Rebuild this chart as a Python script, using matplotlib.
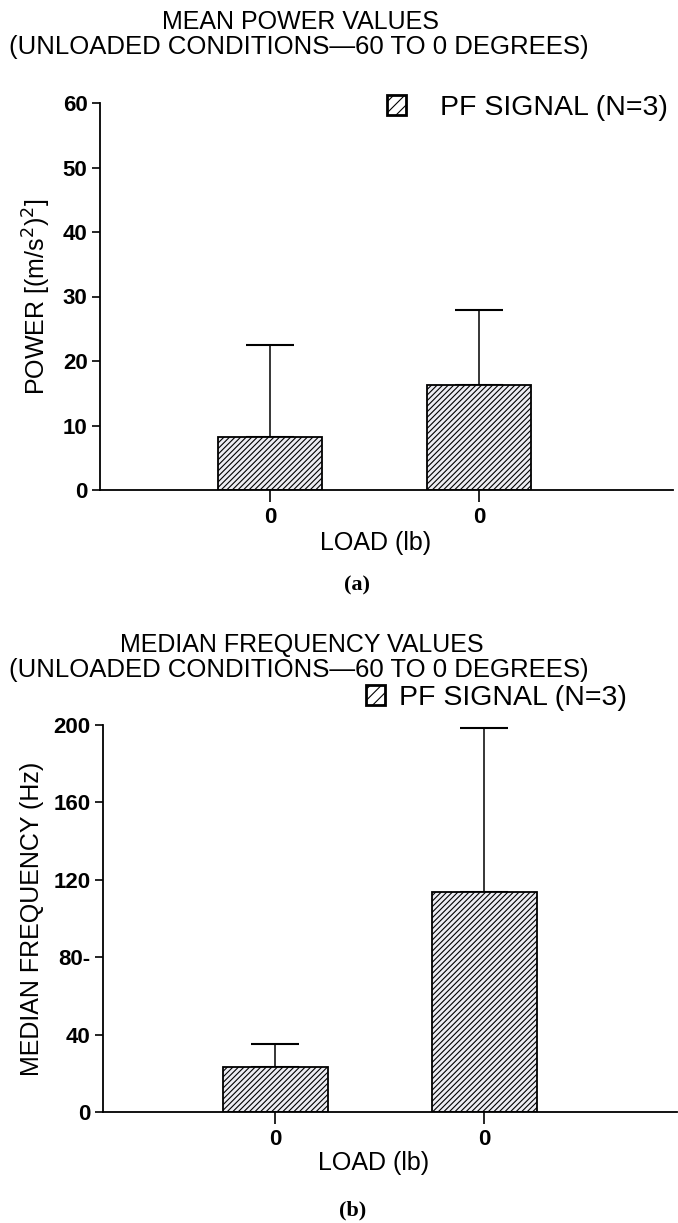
import numpy as np
import matplotlib
matplotlib.use('Agg')
import matplotlib.pyplot as plt
from matplotlib.patches import Patch

# values
load_labels = ['0', '0']
power_mean = [8.2, 16.3]
power_err = [14.3, 11.6]
freq_mean = [23.1, 113.6]
freq_err = [12.0, 85.0]

power_ticks = [0, 10, 20, 30, 40, 50, 60]
freq_ticks = [0, 40, 80, 120, 160, 200]
freq_ticklabels = ['0', '40', '80-', '120', '160', '200']

title_top = ['MEAN POWER VALUES', '(UNLOADED CONDITIONS\u201460 TO 0 DEGREES)']
title_bot = ['MEDIAN FREQUENCY VALUES', '(UNLOADED CONDITIONS\u201460 TO 0 DEGREES)']
legend_label = 'PF SIGNAL (N=3)'

plt.rcParams['font.family'] = ['Liberation Sans', 'DejaVu Sans']
plt.rcParams['hatch.linewidth'] = 0.8

W, H = 678, 1223
fig = plt.figure(figsize=(W / 100, H / 100), dpi=100)


def fy(y):
    # pixel row -> figure fraction
    return 1 - y / H


def draw_panel(ax, means, errs, ticks, ylabel, ylim, xlim):
    x = np.arange(len(means))
    ax.bar(x, means, width=0.5, color='#ececf2', edgecolor='black',
           hatch='//////', linewidth=1.3, zorder=2)
    ax.errorbar(x, means, yerr=[np.zeros(len(errs)), errs], fmt='none',
                ecolor='black', elinewidth=1.1, capsize=17, capthick=1.5, zorder=1)
    ax.set_xlim(*xlim)
    ax.set_ylim(*ylim)
    ax.set_xticks(x)
    ax.set_xticklabels(load_labels, fontsize=16, fontweight='bold')
    ax.set_yticks(ticks)
    ax.tick_params(axis='y', length=6, width=1.2, labelsize=16, pad=3)
    ax.tick_params(axis='x', length=8.5, width=1.2, pad=4)
    for lab in ax.get_yticklabels():
        lab.set_fontweight('bold')
    ax.spines['top'].set_visible(False)
    ax.spines['right'].set_visible(False)
    ax.spines['left'].set_linewidth(1.3)
    ax.spines['bottom'].set_linewidth(1.3)
    ax.set_ylabel(ylabel, fontsize=18, labelpad=7)
    ax.patch.set_alpha(0)


def add_legend(x_px, y_px, pad):
    handle = Patch(facecolor='white', edgecolor='black', hatch='///', linewidth=2)
    fig.legend([handle], [legend_label], loc='center left',
               bbox_to_anchor=(x_px / W, fy(y_px)), frameon=False, fontsize=20.5,
               handlelength=0.65, handleheight=0.65, handletextpad=pad,
               borderpad=0, borderaxespad=0)


# (a) mean power
ax1 = fig.add_axes([100 / W, fy(490), 573 / W, 387 / H])
draw_panel(ax1, power_mean, power_err, power_ticks,
           'POWER [(m/s$^2$)$^2$]', (0, 60), (-0.813, 1.928))
fig.text(300 / W, fy(22), title_top[0], ha='center', va='center', fontsize=18)
fig.text(299 / W, fy(47), title_top[1], ha='center', va='center', fontsize=18.5)
fig.text(376 / W, fy(543), 'LOAD (lb)', ha='center', va='center', fontsize=18)
fig.text(357 / W, fy(585), '(a)', ha='center', va='center', fontsize=16,
         fontweight='bold', family='Liberation Serif')
add_legend(387, 108, 1.2)

# (b) median frequency
ax2 = fig.add_axes([103 / W, fy(1112), 574 / W, 387 / H])
draw_panel(ax2, freq_mean, freq_err, freq_ticks,
           'MEDIAN FREQUENCY (Hz)', (0, 200), (-0.823, 1.92))
ax2.set_yticklabels(freq_ticklabels, fontsize=16, fontweight='bold')
fig.text(302 / W, fy(645), title_bot[0], ha='center', va='center', fontsize=18)
fig.text(299 / W, fy(670), title_bot[1], ha='center', va='center', fontsize=18.5)
fig.text(374 / W, fy(1163), 'LOAD (lb)', ha='center', va='center', fontsize=18)
fig.text(353 / W, fy(1210), '(b)', ha='center', va='center', fontsize=16,
         fontweight='bold', family='Liberation Serif')
add_legend(366, 698, 0.5)

fig.savefig('out.png', dpi=100)
